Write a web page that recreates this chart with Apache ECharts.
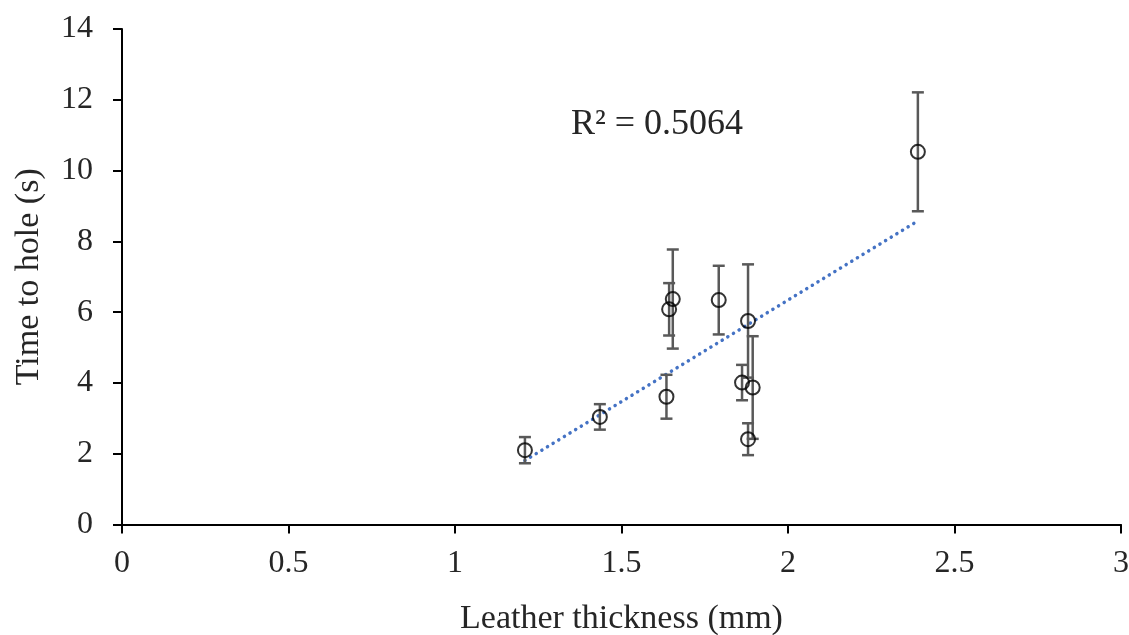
<!DOCTYPE html>
<html>
<head>
<meta charset="utf-8">
<script src="https://cdn.jsdelivr.net/npm/echarts@6/dist/echarts.min.js"></script>
<style>
html,body{margin:0;padding:0;background:#fff;}
#chart{width:1129px;height:635px;}
</style>
</head>
<body>
<div id="chart"></div>
<script>
// Data
const thickness  = [1.21, 1.435, 1.635, 1.643, 1.654, 1.792, 1.88, 1.862, 1.894, 1.88, 2.39];
const timeToHole = [2.10, 3.04, 3.61, 6.08, 6.37, 6.34, 5.75, 4.01, 3.87, 2.41, 10.53];
const errorBar   = [0.37, 0.36, 0.62, 0.74, 1.40, 0.97, 1.60, 0.50, 1.45, 0.45, 1.68];
const xTicks = [0, 0.5, 1, 1.5, 2, 2.5, 3];
const yTicks = [0, 2, 4, 6, 8, 10, 12, 14];
const r2Label = 'R\u00B2 = 0.5064';
const xTitle = 'Leather thickness (mm)';
const yTitle = 'Time to hole (s)';

// least-squares trend line over the data range
const n = thickness.length;
const mx = thickness.reduce((a, b) => a + b, 0) / n;
const my = timeToHole.reduce((a, b) => a + b, 0) / n;
let sxy = 0, sxx = 0;
for (let i = 0; i < n; i++) {
  sxy += (thickness[i] - mx) * (timeToHole[i] - my);
  sxx += (thickness[i] - mx) * (thickness[i] - mx);
}
const slope = sxy / sxx;
const intercept = my - slope * mx;
const xMin = Math.min(...thickness), xMax = Math.max(...thickness);
const trend = [[xMin, intercept + slope * xMin], [xMax, intercept + slope * xMax]];

const points = thickness.map((x, i) => [x, timeToHole[i]]);
const errData = thickness.map((x, i) => [x, timeToHole[i], errorBar[i]]);

const FONT = '"Liberation Serif", "DejaVu Serif", serif';
const TXT = '#262626';

const chart = echarts.init(document.getElementById('chart'));
chart.setOption({
  animation: false,
  backgroundColor: '#fff',
  grid: { left: 122, right: 8, top: 29, bottom: 110.5, outerBoundsMode: 'none', containLabel: false },
  xAxis: {
    type: 'value', min: xTicks[0], max: xTicks[xTicks.length - 1], interval: 0.5,
    splitLine: { show: false },
    axisLine: { lineStyle: { color: '#000', width: 2 } },
    axisTick: { show: true, length: 9, inside: false, lineStyle: { color: '#000', width: 2 } },
    axisLabel: { color: TXT, fontFamily: FONT, fontSize: 32, margin: 23 },
    name: xTitle, nameLocation: 'middle', nameGap: 78,
    nameTextStyle: { color: TXT, fontFamily: FONT, fontSize: 34 }
  },
  yAxis: {
    type: 'value', min: yTicks[0], max: yTicks[yTicks.length - 1], interval: 2,
    splitLine: { show: false },
    axisLine: { lineStyle: { color: '#000', width: 2 } },
    axisTick: { show: true, length: 9, inside: false, lineStyle: { color: '#000', width: 2 } },
    axisLabel: { color: TXT, fontFamily: FONT, fontSize: 32, margin: 29 },
    name: yTitle, nameLocation: 'middle', nameGap: 76, nameRotate: 90,
    nameTextStyle: { color: TXT, fontFamily: FONT, fontSize: 34 }
  },
  graphic: [{
    type: 'text', left: 571, top: 107,
    style: { text: r2Label, fill: TXT, font: '36px ' + FONT }
  }],
  series: [
    {
      type: 'line', data: trend, symbol: 'none', z: 1,
      lineStyle: { color: '#4472C4', width: 3.5, type: [0.1, 6.5], cap: 'round' }
    },
    {
      type: 'custom', data: errData, z: 2,
      renderItem: function (params, api) {
        const x = api.value(0), y = api.value(1), e = api.value(2);
        const top = api.coord([x, y + e]);
        const bot = api.coord([x, y - e]);
        const hw = 6;
        const st = { stroke: '#595959', lineWidth: 2.5 };
        return {
          type: 'group',
          children: [
            { type: 'line', shape: { x1: top[0], y1: top[1], x2: bot[0], y2: bot[1] }, style: st },
            { type: 'line', shape: { x1: top[0] - hw, y1: top[1], x2: top[0] + hw, y2: top[1] }, style: st },
            { type: 'line', shape: { x1: bot[0] - hw, y1: bot[1], x2: bot[0] + hw, y2: bot[1] }, style: st }
          ]
        };
      }
    },
    {
      type: 'scatter', data: points, z: 3,
      symbol: 'circle', symbolSize: 14,
      itemStyle: { color: 'rgba(0,0,0,0)', borderColor: '#000', borderWidth: 2 }
    }
  ]
});
</script>
</body>
</html>
